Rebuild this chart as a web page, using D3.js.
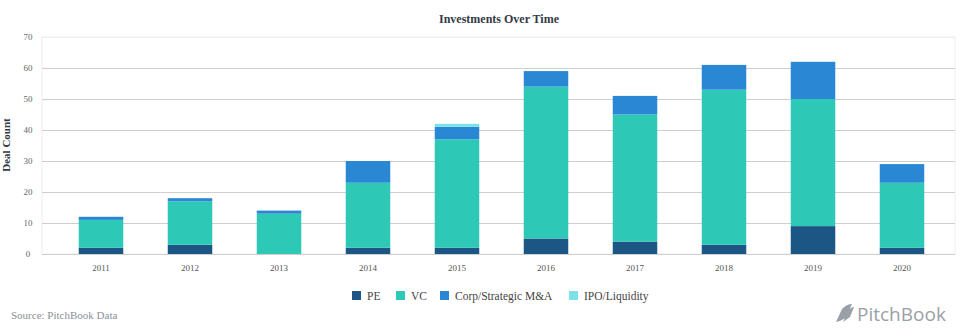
<!DOCTYPE html>
<html><head><meta charset="utf-8">
<script src="https://cdn.jsdelivr.net/npm/d3@7"></script>
<style>body{margin:0;background:#fff}svg{display:block}</style>
</head><body><svg id="c" width="960" height="333"></svg>
<script>
const years = ["2011","2012","2013","2014","2015","2016","2017","2018","2019","2020"];
const seriesNames = ["PE","VC","Corp/Strategic M&A","IPO/Liquidity"];
const PE   = [2,3,0,2,2,5,4,3,9,2];
const VC   = [9,14,13,21,35,49,41,50,41,21];
const Corp = [1,1,1,7,4,5,6,8,12,6];
const IPO  = [0,0,0,0,1,0,0,0,0,0];
const yTicks = [0,10,20,30,40,50,60,70];
const colors = ["#1b5685","#2dc8b6","#2a87d3","#7de1ea"];

const svg = d3.select("#c");
const serif = "'Liberation Serif','DejaVu Serif',serif";
const x = d3.scaleBand().domain(years).range([56.5,946.5]).paddingInner(0.5).paddingOuter(0.25);
const y = d3.scaleLinear().domain([0,70]).range([254,37]);
const L = 42, R = 955;

svg.append("rect").attr("x",L).attr("y",37).attr("width",R-L).attr("height",217)
  .attr("fill","none").attr("stroke","#eeeeee");
svg.append("g").selectAll("line").data(yTicks).join("line")
  .attr("x1",L).attr("x2",R).attr("y1",d=>y(d)+0.5).attr("y2",d=>y(d)+0.5)
  .attr("stroke",d=>d===70?"#eeeeee":"#cfcfcf").attr("stroke-width",1);
svg.append("g").selectAll("text").data(yTicks).join("text")
  .attr("x",28).attr("y",d=>y(d)+3).attr("text-anchor","middle")
  .attr("font-family",serif).attr("font-size",9).attr("fill","#666").text(d=>d);

const rows = years.map((yr,i)=>({year:yr, PE:PE[i], VC:VC[i], "Corp/Strategic M&A":Corp[i], "IPO/Liquidity":IPO[i]}));
const stack = d3.stack().keys(seriesNames)(rows);
svg.append("g").selectAll("g").data(stack).join("g").attr("fill",(d,i)=>colors[i])
  .selectAll("rect").data(d=>d.filter(e=>e[1]-e[0]>0)).join("rect")
  .attr("x",d=>x(d.data.year)).attr("width",x.bandwidth())
  .attr("y",d=>y(d[1])).attr("height",d=>y(d[0])-y(d[1]));

svg.append("g").selectAll("text").data(years).join("text")
  .attr("x",d=>x(d)+x.bandwidth()/2).attr("y",271).attr("text-anchor","middle")
  .attr("font-family",serif).attr("font-size",9).attr("fill","#555").text(d=>d);

svg.append("text").attr("x",499).attr("y",23).attr("text-anchor","middle")
  .attr("font-family",serif).attr("font-size",12).attr("font-weight","bold").attr("fill","#333a45")
  .text("Investments Over Time");
svg.append("text").attr("transform","translate(10,145) rotate(-90)").attr("text-anchor","middle")
  .attr("font-family",serif).attr("font-size",11).attr("font-weight","bold").attr("fill","#333a45")
  .text("Deal Count");

const lx = [352,396,440,569];
const lg = svg.append("g").selectAll("g").data(seriesNames).join("g")
  .attr("transform",(d,i)=>`translate(${lx[i]},291)`);
lg.append("rect").attr("width",9).attr("height",9).attr("fill",(d,i)=>colors[i]);
lg.append("text").attr("x",15).attr("y",8.5).attr("font-family",serif).attr("font-size",11.5)
  .attr("fill","#444").text(d=>d);

svg.append("text").attr("x",11).attr("y",319).attr("font-family",serif).attr("font-size",11)
  .attr("fill","#8a8f99").text("Source: PitchBook Data");
svg.append("path").attr("d","M836,322 L842,309 Q847,304 852,304 L846,317 Q842,321 836,322 Z M843,322 L848,311 Q851,307 854,307 L850,317 Z")
  .attr("fill","#9aa0a8");
svg.append("text").attr("x",857).attr("y",321).attr("font-family","'Open Sans','DejaVu Sans',sans-serif")
  .attr("font-size",19).attr("fill","#9aa0a8").text("PitchBook");
</script></body></html>
